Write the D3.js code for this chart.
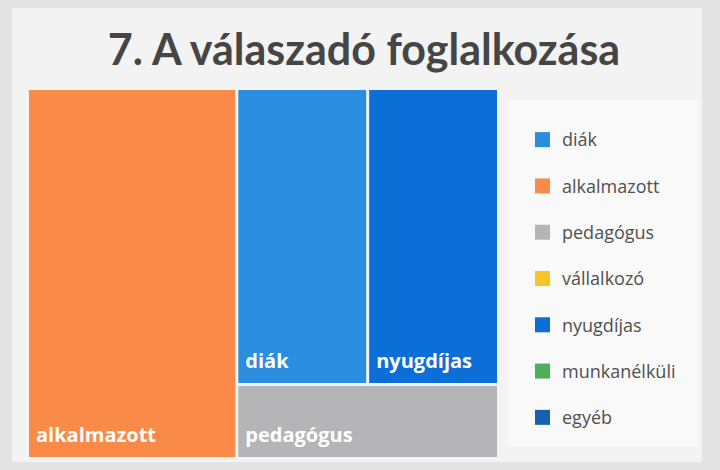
<!DOCTYPE html>
<html>
<head>
<meta charset="utf-8">
<script src="https://cdn.jsdelivr.net/npm/d3@7"></script>
<style>
  body { margin: 0; background: #e4e4e4; }
  svg { display: block; }
  .title { font-family: Lato, "Open Sans", sans-serif; font-weight: bold; fill: #454545; }
  .tile-label { font-family: "Open Sans", Lato, sans-serif; font-weight: bold; fill: #fff; }
  .legend-label { font-family: "Open Sans", Lato, sans-serif; fill: #505050; }
</style>
</head>
<body>
<div id="chart"></div>
<script>
// A válaszadó foglalkozása
let categories = ["diák", "alkalmazott", "pedagógus", "vállalkozó", "nyugdíjas", "munkanélküli", "egyéb"];
let values = [22, 44, 11, 0, 22, 0, 0];
let colors = ["#2a8de0", "#fa8a48", "#b5b5b7", "#f6c424", "#0b6fd7", "#4cae57", "#1560b0"];

let width = 720, height = 470;
let mapBox = {left: 29, top: 90, right: 497, bottom: 457};

let svg = d3.select('#chart').append('svg')
    .attr('width', width)
    .attr('height', height);

// slide background
svg.append('rect')
    .attr('x', 12).attr('y', 8)
    .attr('width', 690).attr('height', 454)
    .attr('fill', '#f3f3f3');

// legend panel
svg.append('rect')
    .attr('x', 508).attr('y', 100)
    .attr('width', 190).attr('height', 346)
    .attr('fill', '#f9f9f9');

svg.append('text')
    .attr('class', 'title')
    .attr('x', 364)
    .attr('y', 65)
    .attr('text-anchor', 'middle')
    .style('font-size', '43px')
    .text('7. A válaszadó foglalkozása');

let color = d3.scaleOrdinal()
    .domain(categories)
    .range(colors);

let data = categories.map(function(c, i) { return {name: c, value: values[i]}; });

let root = d3.hierarchy({children: data})
    .sum(function(d) { return d.value || 0; })
    .sort(function(a, b) { return b.value - a.value; });

d3.treemap()
    .tile(d3.treemapSquarify.ratio(1.15))
    .size([mapBox.right - mapBox.left, mapBox.bottom - mapBox.top])
    .paddingInner(3)
    (root);

let g = svg.append('g')
    .attr('transform', 'translate(' + mapBox.left + ',' + mapBox.top + ')');

let tile = g.selectAll('g.tile')
    .data(root.leaves().filter(function(d) { return d.value > 0; }))
    .enter().append('g')
    .attr('class', 'tile')
    .attr('transform', function(d) { return 'translate(' + d.x0 + ',' + d.y0 + ')'; });

tile.append('rect')
    .attr('width', function(d) { return d.x1 - d.x0; })
    .attr('height', function(d) { return d.y1 - d.y0; })
    .attr('fill', function(d) { return color(d.data.name); });

tile.append('text')
    .attr('class', 'tile-label')
    .attr('x', 7)
    .attr('y', function(d) { return d.y1 - d.y0 - 15; })
    .style('font-size', '20px')
    .text(function(d) { return d.data.name; });

// legend
let ly = d3.scaleBand()
    .domain(categories)
    .range([117, 441]);

let item = svg.append('g').selectAll('g')
    .data(categories)
    .enter().append('g')
    .attr('transform', function(d) { return 'translate(535,' + (ly(d) + ly.bandwidth() / 2) + ')'; });

item.append('rect')
    .attr('x', 0).attr('y', -8)
    .attr('width', 15).attr('height', 15)
    .attr('fill', function(d) { return color(d); });

item.append('text')
    .attr('class', 'legend-label')
    .attr('x', 27)
    .attr('dy', '0.35em')
    .style('font-size', '18px')
    .text(function(d) { return d; });
</script>
</body>
</html>
